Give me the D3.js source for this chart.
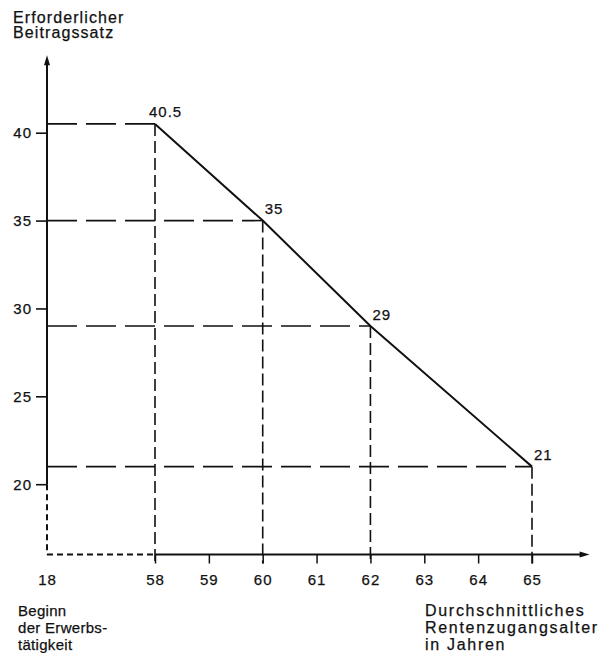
<!DOCTYPE html>
<html>
<head>
<meta charset="utf-8">
<script src="https://cdn.jsdelivr.net/npm/d3@7/dist/d3.min.js"></script>
<style>
  html, body { margin: 0; padding: 0; background: #fff; }
  svg { display: block; }
  text { font-family: "Liberation Sans", Arial, Helvetica, sans-serif; fill: #111; stroke: #111; stroke-width: 0.25px; }
</style>
</head>
<body>
<svg id="chart" width="602" height="653"></svg>
<script>
// ---- data ----
const xTickValues = [18, 58, 59, 60, 61, 62, 63, 64, 65];
const yTickValues = [20, 25, 30, 35, 40];
const rentAge = [58, 60, 62, 65];
const rate = [40.5, 35, 29, 21];
const rateLabels = ["40.5", "35", "29", "21"];
const yTitle = ["Erforderlicher", "Beitragssatz"];
const leftNote = ["Beginn", "der Erwerbs-", "tätigkeit"];
const rightNote = ["Durchschnittliches", "Rentenzugangsalter", "in Jahren"];
const xStart = 18, xBreak = 58, xEnd = 66.07;
const yBottom = 16, yTop = 44.4, ySolidFrom = 20;

// ---- scales ----
const x = d3.scaleLinear().domain([18, 58, 65]).range([47, 155, 532]);
const y = d3.scaleLinear().domain([16, 40]).range([554.5, 132.7]);

const svg = d3.select("#chart");
const ink = "#111";

// dashed guide lines
const pts = rentAge.map((a, i) => ({ a, r: rate[i], label: rateLabels[i], i }));
svg.append("g").selectAll("line.h").data(pts).join("line")
  .attr("x1", x(xStart)).attr("x2", d => x(d.a))
  .attr("y1", d => y(d.r)).attr("y2", d => y(d.r))
  .attr("stroke", ink).attr("stroke-width", 1.6)
  .attr("stroke-dasharray", "30,9");
svg.append("g").selectAll("line.v").data(pts).join("line")
  .attr("x1", d => x(d.a)).attr("x2", d => x(d.a))
  .attr("y1", d => y(d.r)).attr("y2", y(yBottom) + 9)
  .attr("stroke", ink).attr("stroke-width", 1.6)
  .attr("stroke-dasharray", "12,5");

// y axis solid part
svg.append("line")
  .attr("x1", x(xStart)).attr("x2", x(xStart))
  .attr("y1", y(ySolidFrom)).attr("y2", y(yTop) + 6)
  .attr("stroke", ink).attr("stroke-width", 2);
// y axis dotted part
svg.append("line")
  .attr("x1", x(xStart)).attr("x2", x(xStart))
  .attr("y1", y(ySolidFrom)).attr("y2", y(yBottom))
  .attr("stroke", ink).attr("stroke-width", 2)
  .attr("stroke-dasharray", "6,4");
// x axis dotted part
svg.append("line")
  .attr("x1", x(xStart)).attr("x2", x(xBreak))
  .attr("y1", y(yBottom)).attr("y2", y(yBottom))
  .attr("stroke", ink).attr("stroke-width", 2)
  .attr("stroke-dasharray", "6,4");
// x axis solid part
svg.append("line")
  .attr("x1", x(xBreak)).attr("x2", x(xEnd) - 6)
  .attr("y1", y(yBottom)).attr("y2", y(yBottom))
  .attr("stroke", ink).attr("stroke-width", 2);

// arrowheads
const yTipX = x(xStart), yTipY = y(yTop);
svg.append("path")
  .attr("d", `M${yTipX},${yTipY} L${yTipX - 3},${yTipY + 10} L${yTipX + 3},${yTipY + 10} Z`)
  .attr("fill", ink);
const xTipX = x(xEnd), xTipY = y(yBottom);
svg.append("path")
  .attr("d", `M${xTipX},${xTipY} L${xTipX - 10},${xTipY - 3} L${xTipX - 10},${xTipY + 3} Z`)
  .attr("fill", ink);

// y ticks via axis
const yAxis = d3.axisLeft(y).tickValues(yTickValues).tickSize(11).tickPadding(4)
  .tickFormat(d3.format("d"));
const gy = svg.append("g").attr("transform", `translate(${x(xStart)},0)`).call(yAxis);
gy.select(".domain").remove();
gy.selectAll(".tick line").attr("stroke", ink).attr("stroke-width", 1.6);
gy.selectAll(".tick text")
  .style("font-family", '"Liberation Sans", Arial, sans-serif')
  .style("font-size", "15px").style("letter-spacing", "1px").attr("fill", ink);

// x ticks via axis
const xAxis = d3.axisBottom(x).tickValues(xTickValues).tickSize(9).tickPadding(11)
  .tickFormat(d3.format("d"));
const gx = svg.append("g").attr("transform", `translate(0,${y(yBottom)})`).call(xAxis);
gx.select(".domain").remove();
gx.selectAll(".tick line").attr("stroke", ink).attr("stroke-width", 1.5)
  .attr("display", d => d === xStart ? "none" : null);
gx.selectAll(".tick text")
  .style("font-family", '"Liberation Sans", Arial, sans-serif')
  .style("font-size", "15px").style("letter-spacing", "1px").attr("fill", ink);

// data line
const line = d3.line().x(d => x(d.a)).y(d => y(d.r));
svg.append("path").datum(pts).attr("d", line)
  .attr("fill", "none").attr("stroke", ink).attr("stroke-width", 2);

// point labels
svg.append("g").selectAll("text").data(pts).join("text")
  .attr("x", d => x(d.a) + (d.i === 0 ? -6 : 2))
  .attr("y", d => y(d.r) - 6.5)
  .style("font-size", "15px").style("letter-spacing", "1px")
  .text(d => d.label);

// y title
svg.append("g").selectAll("text").data(yTitle).join("text")
  .attr("x", 13).attr("y", (d, i) => 23 + i * 15.3)
  .style("font-size", "16px").style("letter-spacing", "1.1px")
  .text(d => d);

// bottom left note
svg.append("g").selectAll("text").data(leftNote).join("text")
  .attr("x", 18).attr("y", (d, i) => 616 + i * 17)
  .style("font-size", "15px").style("letter-spacing", "0.3px")
  .text(d => d);

// bottom right note
svg.append("g").selectAll("text").data(rightNote).join("text")
  .attr("x", 425).attr("y", (d, i) => 616 + i * 17)
  .style("font-size", "16px").style("letter-spacing", "1.7px")
  .text(d => d);
</script>
</body>
</html>
